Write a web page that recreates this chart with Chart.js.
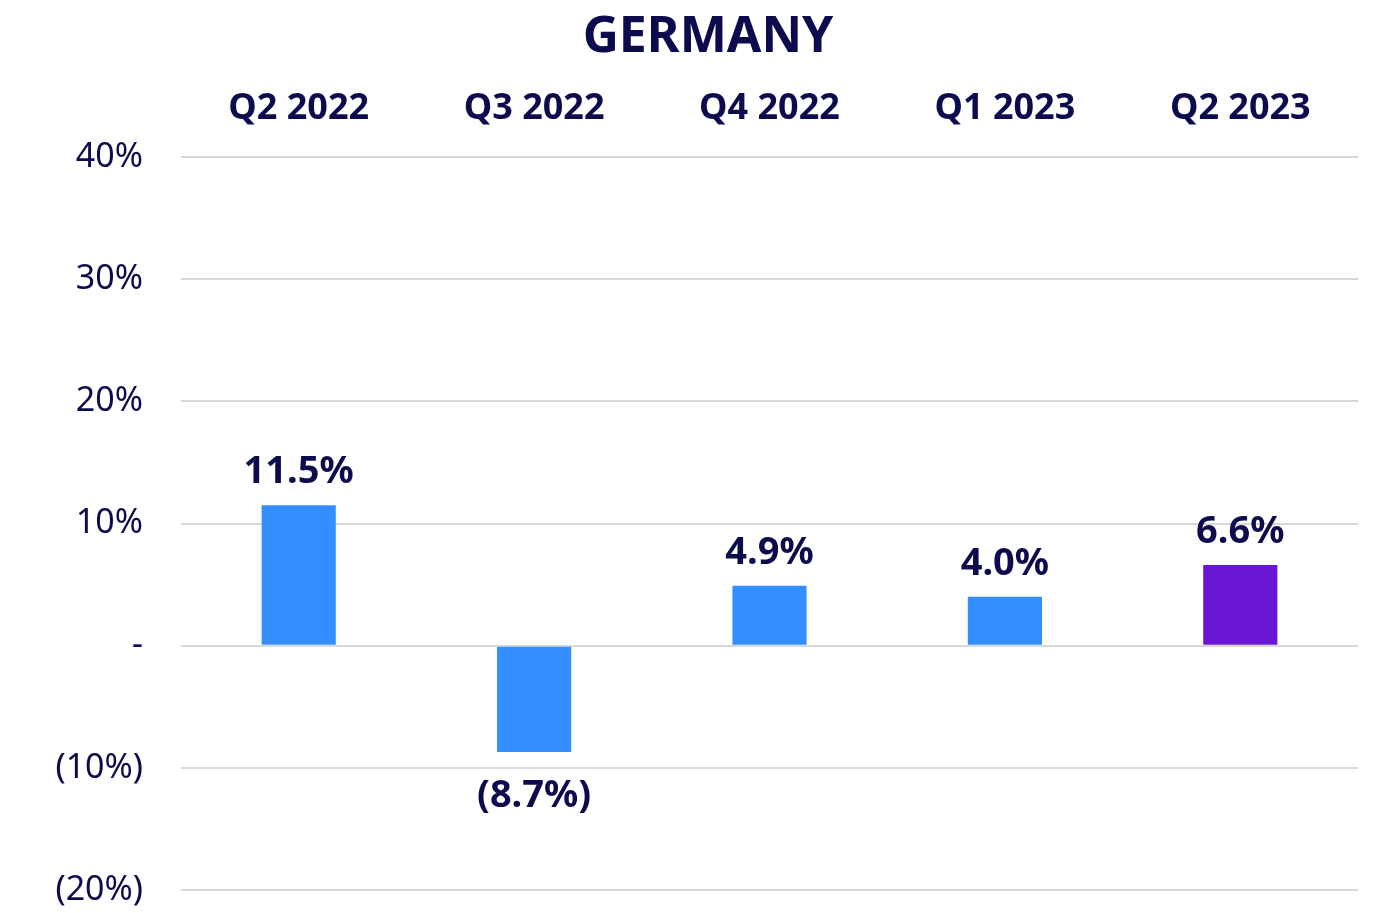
<!DOCTYPE html>
<html>
<head>
<meta charset="utf-8">
<script src="https://cdn.jsdelivr.net/npm/chart.js@4"></script>
<style>
  html, body { margin: 0; padding: 0; background: #fff; }
  #wrap { width: 1382px; height: 913px; }
</style>
</head>
<body>
<div id="wrap"><canvas id="chart" width="1382" height="913"></canvas></div>
<script>
// Chart data
const quarters = ['Q2 2022', 'Q3 2022', 'Q4 2022', 'Q1 2023', 'Q2 2023'];
const growth = [11.5, -8.7, 4.9, 4.0, 6.6];
const barColors = ['#338fff', '#338fff', '#338fff', '#338fff', '#6a17d3'];
const yMin = -20;
const yMax = 40;
const yStep = 10;

const navy = '#0c0b4d';
const fontFamily = '"Noto Sans", Lato, sans-serif';

function fmtPct(v, digits) {
    if (v === 0) return '-';
    const s = Math.abs(v).toFixed(digits) + '%';
    return v < 0 ? '(' + s + ')' : s;
}

// title, drawn a little right of centre like the original
const titlePlugin = {
    id: 'titlePlugin',
    afterDraw(chart) {
        const ctx = chart.ctx;
        ctx.save();
        ctx.font = 'bold 50px ' + fontFamily;
        ctx.fillStyle = navy;
        ctx.textAlign = 'center';
        ctx.textBaseline = 'alphabetic';
        ctx.fillText('GERMANY', 708, 52);
        ctx.restore();
    }
};

// value labels above / below each bar
const valueLabels = {
    id: 'valueLabels',
    afterDatasetsDraw(chart) {
        const ctx = chart.ctx;
        const meta = chart.getDatasetMeta(0);
        ctx.save();
        ctx.font = 'bold 38px ' + fontFamily;
        ctx.fillStyle = navy;
        ctx.textAlign = 'center';
        ctx.textBaseline = 'alphabetic';
        meta.data.forEach((bar, i) => {
            const v = growth[i];
            const y = v >= 0 ? bar.y - 22 : bar.y + 55;
            ctx.fillText(fmtPct(v, 1), bar.x, y);
        });
        ctx.restore();
    }
};

new Chart(document.getElementById('chart'), {
    type: 'bar',
    data: {
        labels: quarters,
        datasets: [{
            data: growth,
            backgroundColor: barColors,
            borderWidth: 0,
            barPercentage: 1,
            categoryPercentage: 0.315
        }]
    },
    options: {
        responsive: false,
        animation: false,
        layout: {
            padding: { top: 60, right: 24, bottom: 23, left: 0 }
        },
        plugins: {
            legend: { display: false },
            title: { display: false },
            tooltip: { enabled: false }
        },
        scales: {
            x: {
                position: 'top',
                grid: { display: false, drawTicks: false },
                border: { display: false },
                ticks: {
                    color: navy,
                    font: { family: fontFamily, size: 36, weight: 'bold' },
                    padding: 27,
                    maxRotation: 0,
                    autoSkip: false
                },
                afterFit(scale) { scale.height = 97; }
            },
            y: {
                min: yMin,
                max: yMax,
                // invisible tick marks give the gap between labels and grid
                grid: {
                    color: '#d9d9d9',
                    lineWidth: 2,
                    drawTicks: true,
                    tickLength: 38,
                    tickColor: 'rgba(0,0,0,0)'
                },
                border: { display: false },
                ticks: {
                    stepSize: yStep,
                    color: navy,
                    font: { family: fontFamily, size: 34 },
                    padding: 0,
                    callback: v => fmtPct(v, 0)
                },
                afterFit(scale) { scale.width = 181; }
            }
        }
    },
    plugins: [titlePlugin, valueLabels]
});
</script>
</body>
</html>
